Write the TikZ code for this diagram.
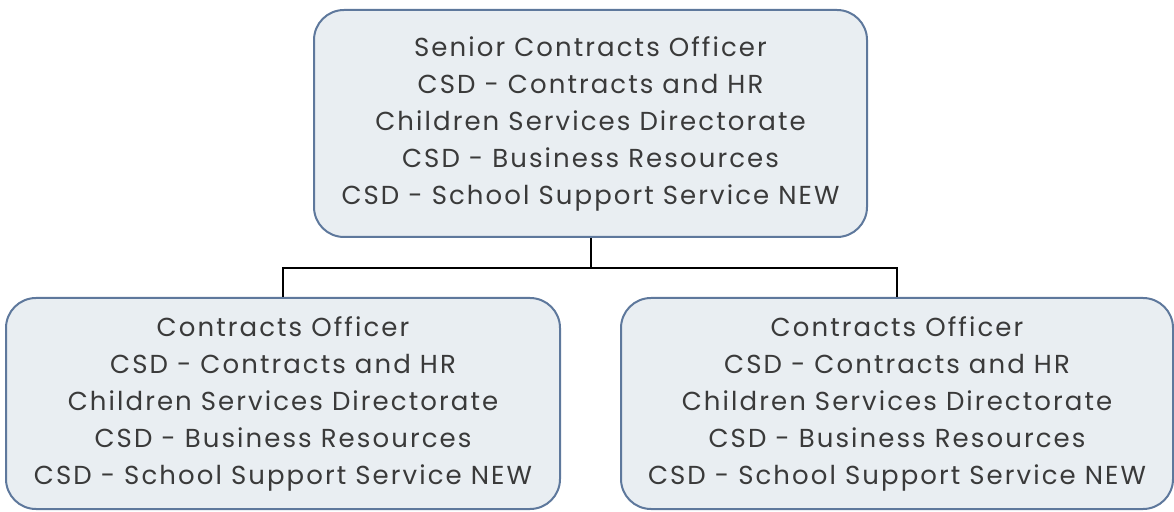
\documentclass[tikz,border=0pt]{standalone}
\usepackage{fontspec}
\setmainfont{Poppins}[LetterSpace=8]
\usepackage{tikz}
\usetikzlibrary{positioning}

\definecolor{boxfill}{HTML}{E9EEF2}
\definecolor{boxline}{HTML}{5E789C}
\definecolor{boxtext}{HTML}{3A3A3A}

\begin{document}
\begin{tikzpicture}[
  x=1pt, y=1pt,
  font=\fontsize{26}{37}\selectfont,
  post/.style={draw=boxline, line width=2pt, rounded corners=30pt, fill=boxfill, text=boxtext, align=center, inner sep=0pt},
  link/.style={draw=black, line width=2pt}
]
\useasboundingbox (0,0) rectangle (1174,511);
\node[post, minimum width=553pt, minimum height=227pt] (senior) at (590.5,387.5) {Senior Contracts Officer\\CSD - Contracts and HR\\Children Services Directorate\\CSD - Business Resources\\CSD - School Support Service NEW};
\node[post, minimum width=554pt, minimum height=211pt] (officerL) at (283,107.5) {Contracts Officer\\CSD - Contracts and HR\\Children Services Directorate\\CSD - Business Resources\\CSD - School Support Service NEW};
\node[post, minimum width=552pt, minimum height=211pt] (officerR) at (897,107.5) {Contracts Officer\\CSD - Contracts and HR\\Children Services Directorate\\CSD - Business Resources\\CSD - School Support Service NEW};
\coordinate (split) at (590.5,243);
\draw[link] (senior.south) -- (split);
\draw[link] (split) -| (officerL.north);
\draw[link] (split) -| (officerR.north);
\end{tikzpicture}
\end{document}
